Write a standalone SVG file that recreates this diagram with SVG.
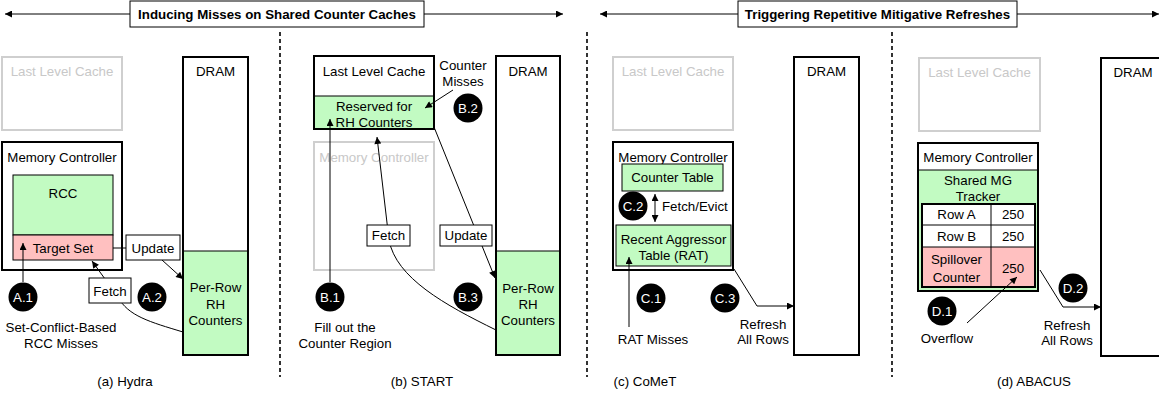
<svg xmlns="http://www.w3.org/2000/svg" width="1159" height="407" viewBox="0 0 1159 407">
<defs>
<marker id="ah" viewBox="0 0 10 10" refX="10" refY="5" markerWidth="9" markerHeight="7" markerUnits="userSpaceOnUse" orient="auto-start-reverse">
<path d="M0,0 L10,5 L0,10 z" fill="#000"/>
</marker>
<style>
text{font-family:"Liberation Sans",Arial,sans-serif;font-size:13.3px;fill:#000;text-anchor:middle}
.title{font-weight:bold}
.gt{fill:#c8c8c8}
.wt{fill:#fff}
.box{fill:#fff;stroke:#000;stroke-width:2}
.gbox{fill:#fff;stroke:#cfcfcf;stroke-width:2}
.in{stroke:#000;stroke-width:1}
.green{fill:#c2fbc2}
.pink{fill:#ffc0c0}
.lbl{fill:#fff;stroke:#000;stroke-width:1}
.conn{fill:none;stroke:#000;stroke-width:1}
.dash{stroke:#000;stroke-width:1.6;stroke-dasharray:4,3}
.badge{fill:#000}
</style>
</defs>

<g id="headers">
<line class="conn" x1="130" y1="14" x2="5" y2="14" marker-end="url(#ah)"/>
<line class="conn" x1="424" y1="14" x2="563" y2="14" marker-end="url(#ah)"/>
<rect class="lbl" x="130" y="1" width="294" height="26"/>
<text class="title" x="277" y="19">Inducing Misses on Shared Counter Caches</text>
<line class="conn" x1="738" y1="14" x2="600" y2="14" marker-end="url(#ah)"/>
<line class="conn" x1="1017" y1="14" x2="1159" y2="14" marker-end="url(#ah)"/>
<rect class="lbl" x="738" y="1" width="279" height="26"/>
<text class="title" x="877.5" y="19">Triggering Repetitive Mitigative Refreshes</text>
</g>

<g id="dividers">
<line class="dash" x1="280" y1="32" x2="280" y2="377"/>
<line class="dash" x1="587" y1="32" x2="587" y2="377"/>
<line class="dash" x1="892" y1="32" x2="892" y2="377"/>
</g>

<!-- Panel (a) Hydra -->
<g id="a-llc">
<rect class="gbox" x="2" y="57" width="120" height="73"/>
<text class="gt" x="62" y="76">Last Level Cache</text>
</g>
<g id="a-dram">
<rect class="box" x="183" y="57" width="65" height="298"/>
<rect class="green in" x="183" y="251" width="65" height="104"/>
<rect x="183" y="57" width="65" height="298" fill="none" stroke="#000" stroke-width="2"/>
<text x="215.5" y="76">DRAM</text>
<text x="215.5" y="292">Per-Row</text>
<text x="215.5" y="309">RH</text>
<text x="215.5" y="325">Counters</text>
</g>
<g id="a-mc">
<rect class="box" x="2" y="142" width="120" height="128"/>
<text x="62" y="162">Memory Controller</text>
<rect class="green in" x="13" y="175" width="100" height="60"/>
<text x="63" y="198">RCC</text>
<rect class="pink in" x="13" y="235" width="100" height="25"/>
<text x="63" y="253">Target Set</text>
</g>
<g id="a-connectors">
<line class="conn" x1="113" y1="248" x2="126" y2="248"/>
<line class="conn" x1="162" y1="260" x2="183" y2="279" marker-end="url(#ah)"/>
<path class="conn" d="M183,332 C150,322 128,316 118,297 L92,261" marker-end="url(#ah)"/>
<line class="conn" x1="23" y1="282" x2="23" y2="243" marker-end="url(#ah)"/>
</g>
<g id="a-update">
<rect class="lbl" x="126" y="235" width="54" height="25"/>
<text x="153" y="253">Update</text>
</g>
<g id="a-fetch">
<rect class="lbl" x="89" y="278" width="42" height="25"/>
<text x="110" y="296">Fetch</text>
</g>
<g id="a-badges">
<circle class="badge" cx="23" cy="297" r="14.5"/>
<text class="wt" x="23" y="302">A.1</text>
<circle class="badge" cx="152" cy="297" r="14.5"/>
<text class="wt" x="152" y="302">A.2</text>
</g>
<g id="a-notes">
<text x="61" y="332">Set-Conflict-Based</text>
<text x="61" y="348">RCC Misses</text>
<text x="125" y="386">(a) Hydra</text>
</g>

<!-- Panel (b) START -->
<g id="b-mc">
<rect class="gbox" x="314" y="142" width="120" height="128"/>
<text class="gt" x="374" y="162">Memory Controller</text>
</g>
<g id="b-llc">
<rect class="box" x="314" y="56" width="120" height="73"/>
<rect class="green in" x="314" y="96" width="120" height="33"/>
<rect x="314" y="56" width="120" height="73" fill="none" stroke="#000" stroke-width="2"/>
<text x="374" y="76">Last Level Cache</text>
<text x="374" y="111">Reserved for</text>
<text x="374" y="127">RH Counters</text>
</g>
<g id="b-dram">
<rect class="box" x="496" y="56" width="64" height="299"/>
<rect class="green in" x="496" y="251" width="64" height="104"/>
<rect x="496" y="56" width="64" height="299" fill="none" stroke="#000" stroke-width="2"/>
<text x="528" y="76">DRAM</text>
<text x="528" y="293">Per-Row</text>
<text x="528" y="309">RH</text>
<text x="528" y="325">Counters</text>
</g>
<g id="b-connectors">
<line class="conn" x1="453" y1="90" x2="425" y2="108" marker-end="url(#ah)"/>
<line class="conn" x1="330" y1="282" x2="330" y2="119" marker-end="url(#ah)"/>
<path class="conn" d="M496,330 C445,305 396,278 389,240 L377,137" marker-end="url(#ah)"/>
<line class="conn" x1="434" y1="127" x2="495" y2="278" marker-end="url(#ah)"/>
</g>
<g id="b-fetch">
<rect class="lbl" x="367" y="225" width="43" height="21"/>
<text x="388.5" y="240">Fetch</text>
</g>
<g id="b-update">
<rect class="lbl" x="440" y="225" width="52" height="21"/>
<text x="466" y="240">Update</text>
</g>
<g id="b-badges">
<circle class="badge" cx="468" cy="108" r="14.5"/>
<text class="wt" x="468" y="113">B.2</text>
<circle class="badge" cx="330" cy="297" r="14.5"/>
<text class="wt" x="330" y="302">B.1</text>
<circle class="badge" cx="468" cy="297" r="14.5"/>
<text class="wt" x="468" y="302">B.3</text>
</g>
<g id="b-notes">
<text x="463" y="70">Counter</text>
<text x="463" y="86">Misses</text>
<text x="345" y="332">Fill out the</text>
<text x="345" y="348">Counter Region</text>
<text x="422" y="386">(b) START</text>
</g>

<!-- Panel (c) CoMeT -->
<g id="c-llc">
<rect class="gbox" x="613" y="57" width="120" height="73"/>
<text class="gt" x="673" y="76">Last Level Cache</text>
</g>
<g id="c-dram">
<rect class="box" x="794" y="57" width="65" height="298"/>
<text x="826.5" y="76">DRAM</text>
</g>
<g id="c-mc">
<rect class="box" x="613" y="142" width="120" height="128"/>
<text x="673" y="162">Memory Controller</text>
<rect class="green in" x="622" y="164" width="101" height="27"/>
<text x="672.5" y="182">Counter Table</text>
<rect class="green in" x="616" y="225" width="115" height="41"/>
<text x="673.5" y="244">Recent Aggressor</text>
<text x="673.5" y="260">Table (RAT)</text>
<text x="662" y="211" style="text-anchor:start">Fetch/Evict</text>
</g>
<g id="c-connectors">
<line class="conn" x1="655" y1="201" x2="655" y2="194" marker-end="url(#ah)"/>
<line class="conn" x1="655" y1="201" x2="655" y2="222" marker-end="url(#ah)"/>
<line class="conn" x1="629" y1="327" x2="629" y2="257" marker-end="url(#ah)"/>
<polyline class="conn" points="734,269 757,306 794,306" marker-end="url(#ah)"/>
</g>
<g id="c-badges">
<circle class="badge" cx="633" cy="206" r="14.5"/>
<text class="wt" x="633" y="211">C.2</text>
<circle class="badge" cx="651" cy="298" r="14.5"/>
<text class="wt" x="651" y="303">C.1</text>
<circle class="badge" cx="725" cy="298" r="14.5"/>
<text class="wt" x="725" y="303">C.3</text>
</g>
<g id="c-notes">
<text x="653" y="344">RAT Misses</text>
<text x="763" y="329">Refresh</text>
<text x="763" y="344">All Rows</text>
<text x="645" y="386">(c) CoMeT</text>
</g>

<!-- Panel (d) ABACUS -->
<g id="d-llc">
<rect class="gbox" x="919" y="58" width="121" height="73"/>
<text class="gt" x="979.5" y="77">Last Level Cache</text>
</g>
<g id="d-dram">
<rect class="box" x="1101" y="58" width="65" height="298"/>
<text x="1133" y="77">DRAM</text>
</g>
<g id="d-mc">
<rect class="box" x="918" y="143" width="120" height="148"/>
<rect class="green" x="919" y="170" width="118" height="120"/>
<line class="in" x1="918" y1="170" x2="1038" y2="170"/>
<text x="978" y="162">Memory Controller</text>
<text x="978" y="185">Shared MG</text>
<text x="978" y="201">Tracker</text>
<rect x="922" y="204" width="113" height="43" fill="#fff"/>
<rect class="pink" x="922" y="247" width="113" height="40"/>
<rect x="922" y="204" width="113" height="83" fill="none" stroke="#000" stroke-width="2"/>
<line class="in" x1="922" y1="225" x2="1035" y2="225"/>
<line class="in" x1="922" y1="247" x2="1035" y2="247"/>
<line class="in" x1="991" y1="204" x2="991" y2="287"/>
<text x="956.5" y="219">Row A</text>
<text x="1013" y="219">250</text>
<text x="956.5" y="241">Row B</text>
<text x="1013" y="241">250</text>
<text x="956.5" y="264">Spillover</text>
<text x="956.5" y="282">Counter</text>
<text x="1013" y="273">250</text>
</g>
<g id="d-connectors">
<line class="conn" x1="967" y1="323" x2="1017" y2="277" marker-end="url(#ah)"/>
<polyline class="conn" points="1040,270 1063,307 1101,307" marker-end="url(#ah)"/>
</g>
<g id="d-badges">
<circle class="badge" cx="942" cy="311" r="14.5"/>
<text class="wt" x="942" y="316">D.1</text>
<circle class="badge" cx="1073" cy="288" r="14.5"/>
<text class="wt" x="1073" y="293">D.2</text>
</g>
<g id="d-notes">
<text x="947" y="343">Overflow</text>
<text x="1067" y="330">Refresh</text>
<text x="1067" y="345">All Rows</text>
<text x="1034" y="386">(d) ABACUS</text>
</g>
</svg>
